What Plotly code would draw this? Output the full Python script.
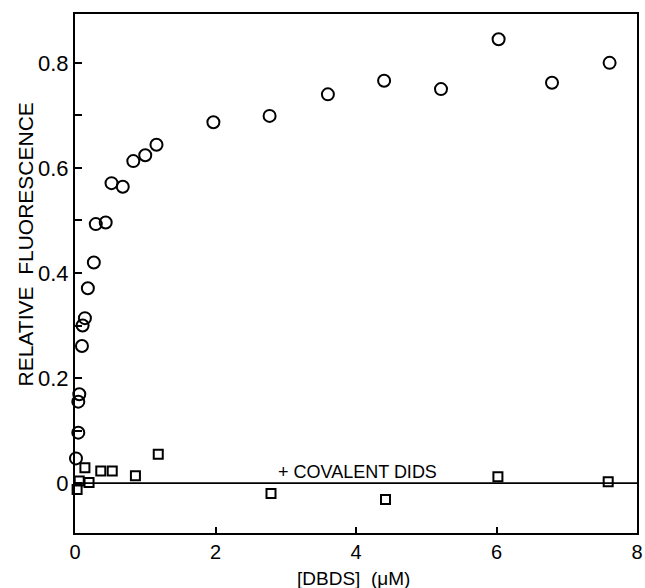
import plotly.graph_objects as go

# Circles: DBDS alone
circ_x = [0.014, 0.047, 0.047, 0.061, 0.099, 0.108, 0.141, 0.183, 0.268, 0.296, 0.437,
          0.52, 0.68, 0.83, 1.0, 1.16, 1.97, 2.77, 3.60, 4.40, 5.21, 6.03, 6.79, 7.61]
circ_y = [0.047, 0.096, 0.155, 0.169, 0.261, 0.300, 0.314, 0.371, 0.420, 0.493, 0.496,
          0.571, 0.564, 0.613, 0.624, 0.644, 0.687, 0.699, 0.740, 0.766, 0.750, 0.845, 0.762, 0.800]

# Squares: + covalent DIDS
sq_x = [0.03, 0.06, 0.141, 0.20, 0.367, 0.53, 0.86, 1.185, 2.79, 4.42, 6.02, 7.59]
sq_y = [-0.012, 0.004, 0.029, 0.001, 0.023, 0.023, 0.014, 0.055, -0.020, -0.031, 0.012, 0.0025]

y_ticks = [0, 0.2, 0.4, 0.6, 0.8]
y_tick_text = ["0", "0.2", "0.4", "0.6", "0.8"]
y_minor = [0.1, 0.3, 0.5, 0.7]
x_ticks = [0, 2, 4, 6, 8]
x_tick_text = ["0", "2", "4", "6", "8"]

FONT = "Liberation Sans, Arial, sans-serif"

fig = go.Figure()
fig.add_hline(y=0, line=dict(color="black", width=1.8), layer="below")
fig.add_trace(go.Scatter(x=circ_x, y=circ_y, mode="markers",
                         marker=dict(symbol="circle-open", size=12, color="black",
                                     line=dict(width=2, color="black")),
                         showlegend=False, cliponaxis=False))
fig.add_trace(go.Scatter(x=sq_x, y=sq_y, mode="markers",
                         marker=dict(symbol="square-open", size=9, color="black",
                                     line=dict(width=2, color="black")),
                         showlegend=False, cliponaxis=False))

fig.add_annotation(x=2.86, y=0.021, xref="x", yref="y", text="+ COVALENT DIDS",
                   showarrow=False, xanchor="left", yanchor="middle",
                   font=dict(family=FONT, size=18, color="black"))
fig.add_annotation(x=-0.088, y=0.555, xref="paper", yref="paper",
                   text="RELATIVE  FLUORESCENCE", textangle=-90,
                   showarrow=False, xanchor="center", yanchor="middle",
                   font=dict(family=FONT, size=21, color="black"))
fig.add_annotation(x=0.496, y=-0.087, xref="paper", yref="paper",
                   text="[DBDS]  (μM)", showarrow=False,
                   xanchor="center", yanchor="middle",
                   font=dict(family=FONT, size=19, color="black"))

fig.update_layout(
    width=645, height=588,
    margin=dict(l=75, r=2, t=14, b=55),
    paper_bgcolor="white", plot_bgcolor="white",
    font=dict(family=FONT, size=22, color="black"),
    xaxis=dict(range=[0, 8], tickvals=x_ticks, ticktext=x_tick_text,
               ticks="inside", ticklen=6, tickwidth=1.8, tickcolor="black",
               ticklabeloverflow="allow", tickfont=dict(size=20),
               showline=True, linecolor="black", linewidth=2, mirror=True,
               showgrid=False, zeroline=False),
    yaxis=dict(range=[-0.095, 0.893], tickvals=y_ticks, ticktext=y_tick_text,
               ticks="inside", ticklen=7, tickwidth=1.8, tickcolor="black",
               minor=dict(tickvals=y_minor, ticks="inside", ticklen=7,
                          tickwidth=1.8, tickcolor="black"),
               showline=True, linecolor="black", linewidth=2, mirror=True,
               showgrid=False, zeroline=False),
)

fig.write_html("out.html")
